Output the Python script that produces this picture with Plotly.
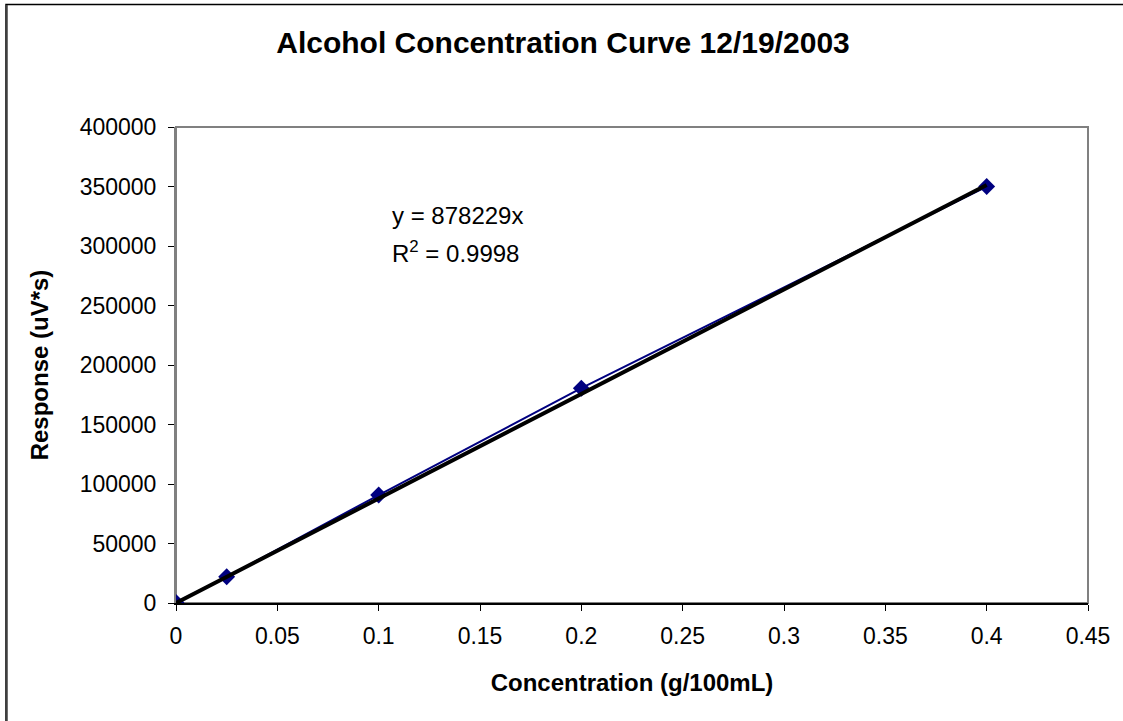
import plotly.graph_objects as go

# Data
concentration = [0, 0.025, 0.1, 0.2, 0.4]
response = [500, 22000, 90700, 180500, 350000]
slope = 878229
r_squared = "0.9998"
trend_x = [0, 0.4]
trend_y = [slope * v for v in trend_x]

x_ticks = [0, 0.05, 0.1, 0.15, 0.2, 0.25, 0.3, 0.35, 0.4, 0.45]
x_tick_text = ["0", "0.05", "0.1", "0.15", "0.2", "0.25", "0.3", "0.35", "0.4", "0.45"]
y_ticks = [0, 50000, 100000, 150000, 200000, 250000, 300000, 350000, 400000]
y_tick_text = [str(v) for v in y_ticks]

FONT = "Liberation Sans, Arial, sans-serif"
W, H = 1123, 721
L, R, T, B = 176, 35, 127, 118
PW, PH = W - L - R, H - T - B

fig = go.Figure()
fig.add_trace(go.Scatter(
    x=concentration, y=response, mode="lines+markers",
    line=dict(color="#000080", width=2),
    marker=dict(symbol="diamond", size=13, color="#000080"),
    showlegend=False, hoverinfo="x+y"))
fig.add_trace(go.Scatter(
    x=trend_x, y=trend_y, mode="lines",
    line=dict(color="black", width=4),
    showlegend=False, hoverinfo="skip"))

def px_to_paper_x(px):
    return (px - L) / PW

def px_to_paper_y(py):
    return (H - B - py) / PH

shapes = [
    # plot area border (gray)
    dict(type="rect", xref="paper", yref="paper", x0=0, y0=0, x1=1, y1=1,
         line=dict(color="#808080", width=2), layer="below"),
    # outer chart frame
    dict(type="rect", xref="paper", yref="paper",
         x0=px_to_paper_x(6), y0=px_to_paper_y(H + 5),
         x1=px_to_paper_x(W + 5), y1=px_to_paper_y(4.5),
         line=dict(color="black", width=1.5)),
    dict(type="line", xref="paper", yref="paper",
         x0=px_to_paper_x(6.5), y0=px_to_paper_y(H + 5),
         x1=px_to_paper_x(6.5), y1=px_to_paper_y(5),
         line=dict(color="#404040", width=2.5)),
]

fig.update_layout(
    width=W, height=H,
    margin=dict(l=L, r=R, t=T, b=B),
    paper_bgcolor="white", plot_bgcolor="white",
    font=dict(family=FONT, size=23, color="black"),
    title=dict(text="<b>Alcohol Concentration Curve 12/19/2003</b>",
               x=563 / W, xanchor="center", y=1 - 42 / H, yanchor="middle",
               font=dict(family=FONT, size=30, color="black")),
    xaxis=dict(range=[0, 0.45], tickvals=x_ticks, ticktext=x_tick_text,
               showgrid=False, zeroline=False, showline=True,
               linecolor="black", linewidth=1.5,
               ticks="outside", ticklen=6, tickcolor="black", tickwidth=1,
               ticklabelstandoff=6,
               tickfont=dict(family=FONT, size=23),
               title=dict(text="<b>Concentration (g/100mL)</b>",
                          font=dict(family=FONT, size=24), standoff=26)),
    yaxis=dict(range=[0, 400000], tickvals=y_ticks, ticktext=y_tick_text,
               showgrid=False, zeroline=False, showline=True,
               linecolor="#808080", linewidth=2,
               ticks="outside", ticklen=6, tickcolor="black", tickwidth=1,
               ticklabelstandoff=7,
               tickfont=dict(family=FONT, size=23),
               title=dict(text="<b>Response (uV*s)</b>",
                          font=dict(family=FONT, size=24), standoff=24)),
    shapes=shapes,
    annotations=[
        dict(xref="paper", yref="paper", x=px_to_paper_x(390), y=px_to_paper_y(215),
             xanchor="left", yanchor="middle", showarrow=False,
             text="y = %dx" % slope, font=dict(family=FONT, size=24)),
        dict(xref="paper", yref="paper", x=px_to_paper_x(390), y=px_to_paper_y(252),
             xanchor="left", yanchor="middle", showarrow=False,
             text="R<sup>2</sup> = " + r_squared, font=dict(family=FONT, size=24)),
    ],
)

fig.write_html("out.html", config={"displayModeBar": False},
               post_script="document.body.style.margin='0px';")
